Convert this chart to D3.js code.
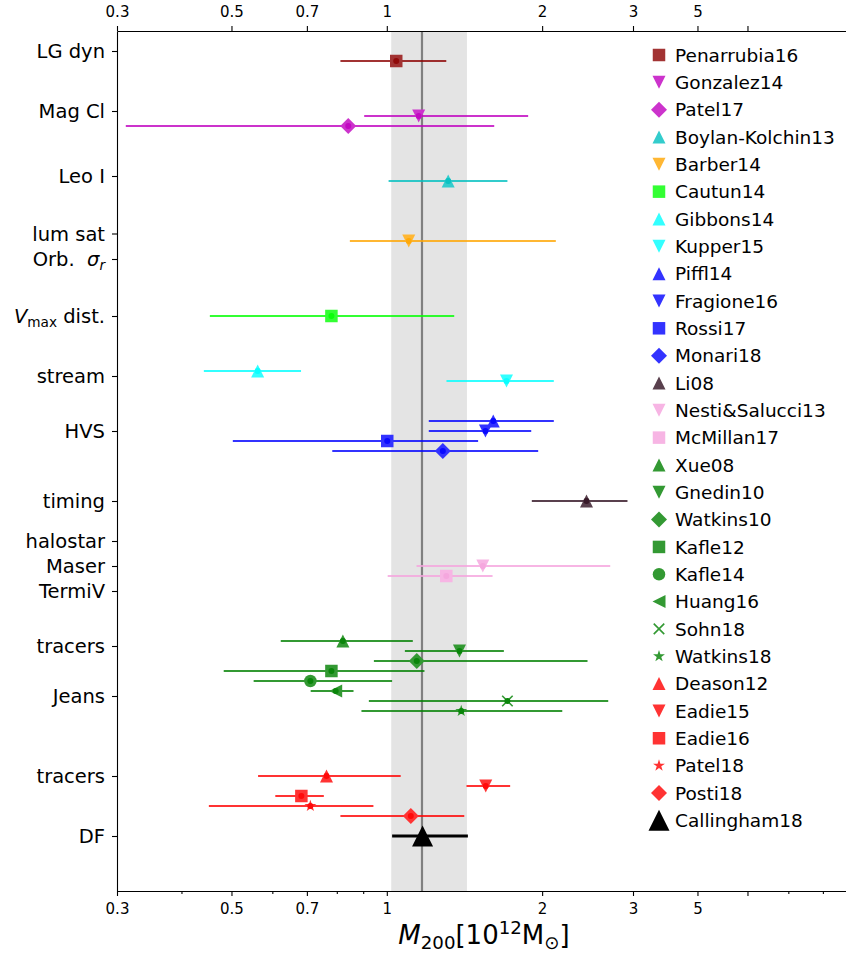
<!DOCTYPE html>
<html><head><meta charset="utf-8">
<script src="https://cdn.jsdelivr.net/npm/d3@7"></script>
<style>
body{margin:0;background:#fff}
svg{display:block;font-family:"DejaVu Sans",sans-serif}
</style>
</head><body>
<svg id="chart" width="846" height="954"></svg>
<script>
// ---------------- data ----------------
const names = ["Penarrubia16","Gonzalez14","Patel17","Boylan-Kolchin13","Barber14","Cautun14","Gibbons14","Kupper15","Piffl14","Fragione16","Rossi17","Monari18","Li08","Nesti&Salucci13","McMillan17","Xue08","Gnedin10","Watkins10","Kafle12","Kafle14","Huang16","Sohn18","Watkins18","Deason12","Eadie15","Eadie16","Patel18","Posti18","Callingham18"];
const centers = [1.043,1.153,0.842,1.315,1.103,0.781,0.562,1.706,1.608,1.553,1.002,1.284,2.438,1.535,1.304,0.822,1.383,1.143,0.781,0.711,0.796,1.713,1.394,0.764,1.555,0.683,0.711,1.113,1.173];
const lows    = [0.813,0.904,0.312,1.008,0.848,0.454,0.442,1.305,1.206,1.206,0.503,0.784,1.910,1.142,1.004,0.623,1.084,0.944,0.483,0.552,0.712,0.923,0.893,0.563,1.427,0.608,0.452,0.813,1.024];
const highs   = [1.304,1.879,1.615,1.713,2.126,1.351,0.682,2.107,2.107,1.905,1.503,1.965,2.927,2.710,1.603,1.123,1.686,2.449,1.183,1.024,0.862,2.686,2.188,1.064,1.734,0.755,0.942,1.413,1.436];
const rows    = [3.0,8.5,9.5,15.0,21.0,28.5,34.0,35.0,39.0,40.0,41.0,42.0,47.0,53.5,54.5,61,62,63,64,65,66,67,68,74.5,75.5,76.5,77.5,78.5,80.5];
const markers = ["s","v","D","^","v","s","^","v","^","v","s","D","^","v","s","^","v","D","s","o","<","x","*","^","v","s","*","D","^"];
const colors  = ["#8b0000","#bf00bf","#bf00bf","#00bfbf","#ffa500","#00ff00","#00ffff","#00ffff","#0000ff","#0000ff","#0000ff","#0000ff","#301020","#f5a3dd","#f5a3dd","#008000","#008000","#008000","#008000","#008000","#008000","#008000","#008000","#ff0000","#ff0000","#ff0000","#ff0000","#ff0000","#000000"];

const catLabels = ["LG dyn","Mag Cl","Leo I","lum sat","Orb.\u00a0 *σ*_{*r*}","*V*_{max} dist.","stream","HVS","timing","halostar","Maser","TermiV","tracers","Jeans","tracers","DF"];
const catRows   = [2.0,8.0,14.5,20.25,22.8,28.5,34.5,40.0,47.0,51.0,53.5,56.0,61.5,66.5,74.5,80.5];

const xTicks = [0.3,0.5,0.7,1,2,3,4,5];
const xTickLabels = ["0.3","0.5","0.7","1","2","3","5",""];
const xMinorTicks = [0.4,0.6,0.8,0.9,6,7];
const band = [1.02,1.43];
const bestFit = 1.17;
const xLabel = "*M*_{200}[10^{12}M_{⊙}]";

// ---------------- layout ----------------
const svg = d3.select("#chart");
const L = 117, T = 31, B = 891;
const x = d3.scaleLog().domain([0.3, 8]).range([L, L + 516 * Math.log10(8 / 0.3)]);
const y = d3.scaleLinear().domain([0, 86]).range([T, B]);

const blend = (c, a) => d3.interpolateRgb("#ffffff", c)(a);

function markerPath(type, s) {
  const h = s / 2, p = d3.path();
  switch (type) {
    case "s": p.rect(-h, -h, s, s); break;
    case "^": p.moveTo(0, -h); p.lineTo(h, h); p.lineTo(-h, h); p.closePath(); break;
    case "v": p.moveTo(0, h); p.lineTo(h, -h); p.lineTo(-h, -h); p.closePath(); break;
    case "<": p.moveTo(-h, 0); p.lineTo(h, -h); p.lineTo(h, h); p.closePath(); break;
    case "D": p.moveTo(0, -h); p.lineTo(h, 0); p.lineTo(0, h); p.lineTo(-h, 0); p.closePath(); break;
    case "o": p.moveTo(h, 0); p.arc(0, 0, h, 0, 2 * Math.PI); break;
    case "x": p.moveTo(-h, -h); p.lineTo(h, h); p.moveTo(-h, h); p.lineTo(h, -h); break;
    case "*": {
      for (let k = 0; k < 10; k++) {
        const r = k % 2 === 0 ? h : h * 0.382;
        const a = -Math.PI / 2 + k * Math.PI / 5;
        if (k === 0) p.moveTo(r * Math.cos(a), r * Math.sin(a)); else p.lineTo(r * Math.cos(a), r * Math.sin(a));
      }
      p.closePath(); break;
    }
  }
  return p.toString();
}
const markerSize = {s: 12.5, "^": 13, v: 13, "<": 13, D: 16, o: 12.5, x: 10.5, "*": 12.5};

function drawMarker(g, type, color, size) {
  if (type === "x") {
    g.append("path").attr("d", markerPath(type, size)).attr("fill", "none").attr("stroke", color).attr("stroke-width", 1.6);
  } else {
    g.append("path").attr("d", markerPath(type, size)).attr("fill", color);
  }
}

function rich(sel, str, fs) {
  const parts = str.match(/\*[^*]+\*|_\{[^}]*\}|\^\{[^}]*\}|[^*_^]+/g);
  let shift = 0;
  parts.forEach(p => {
    let t = p, style = "n", ital = false;
    if (p[0] === "*") { t = p.slice(1, -1); ital = true; }
    else if (p[0] === "_") { t = p.slice(2, -1); style = "sub"; }
    else if (p[0] === "^") { t = p.slice(2, -1); style = "sup"; }
    if (t[0] === "*" && t[t.length - 1] === "*") { t = t.slice(1, -1); ital = true; }
    const target = style === "sub" ? 0.2 * fs : style === "sup" ? -0.4 * fs : 0;
    const ts = sel.append("tspan").text(t);
    if (target - shift !== 0) ts.attr("dy", target - shift);
    shift = target;
    if (ital) ts.attr("font-style", "italic");
    if (style !== "n") ts.attr("font-size", fs * 0.7);
  });
}

// band and best-fit line
svg.append("rect").attr("x", x(band[0])).attr("y", T).attr("width", x(band[1]) - x(band[0])).attr("height", B - T).attr("fill", "#e4e4e4");
svg.append("line").attr("x1", x(bestFit)).attr("x2", x(bestFit)).attr("y1", T).attr("y2", B).attr("stroke", "#808080").attr("stroke-width", 2.2);

// error bars and markers
names.forEach((n, i) => {
  const isBig = n === "Callingham18";
  const base = colors[i];
  const a = isBig ? 1 : 0.8;
  const cy = y(rows[i]);
  svg.append("line").attr("x1", x(lows[i])).attr("x2", x(highs[i])).attr("y1", cy).attr("y2", cy)
    .attr("stroke", base).attr("stroke-opacity", a).attr("stroke-width", isBig ? 3 : 2.1);
  const g = svg.append("g").attr("transform", `translate(${x(centers[i])},${cy})`);
  drawMarker(g, markers[i], blend(base, a), isBig ? 21 : markerSize[markers[i]]);
  if (!isBig) g.append("circle").attr("r", 3).attr("fill", blend(base, 0.96));
});

// axes
const axB = svg.append("g").attr("transform", `translate(0,${B})`)
  .call(d3.axisBottom(x).tickValues(xTicks).tickFormat((d, i) => xTickLabels[i]).tickSize(5).tickSizeOuter(0));
svg.append("g").attr("transform", `translate(0,${B})`)
  .call(d3.axisBottom(x).tickValues(xMinorTicks).tickFormat("").tickSize(3).tickSizeOuter(0));
const axT = svg.append("g").attr("transform", `translate(0,${T})`)
  .call(d3.axisTop(x).tickValues(xTicks).tickFormat((d, i) => xTickLabels[i]).tickSize(5).tickSizeOuter(0));
svg.append("g").attr("transform", `translate(${L},0)`)
  .call(d3.axisLeft(y).tickValues(catRows).tickFormat("").tickSize(5).tickSizeOuter(0));

svg.selectAll(".domain, .tick line").attr("stroke", "#000").attr("stroke-width", 1.1);
axB.selectAll(".tick text").attr("font-size", 15).attr("font-family", "DejaVu Sans").attr("fill", "#000").attr("y", 12.5);
axT.selectAll(".tick text").attr("font-size", 15).attr("font-family", "DejaVu Sans").attr("fill", "#000").attr("y", -14).attr("dy", 0);

// y tick labels (rich text)
catLabels.forEach((lab, i) => {
  const t = svg.append("text").attr("x", L - 12).attr("y", y(catRows[i]) + 0.36 * 19.5)
    .attr("text-anchor", "end").attr("font-size", 19.5).attr("fill", "#000");
  rich(t, lab, 19.5);
});

// x label
const xl = svg.append("text").attr("x", 484).attr("y", 944).attr("text-anchor", "middle").attr("font-size", 26).attr("fill", "#000");
rich(xl, xLabel, 26);

// legend
const lg = svg.append("g");
names.forEach((n, i) => {
  const ly = 55 + i * 27.33;
  const isBig = n === "Callingham18";
  const g = lg.append("g").attr("transform", `translate(659,${ly})`);
  drawMarker(g, markers[i], blend(colors[i], isBig ? 1 : 0.8), isBig ? 21 : markerSize[markers[i]]);
  lg.append("text").attr("x", 675).attr("y", ly + 0.36 * 18.5).attr("font-size", 18.5).attr("fill", "#000").text(n);
});
</script>
</body></html>
